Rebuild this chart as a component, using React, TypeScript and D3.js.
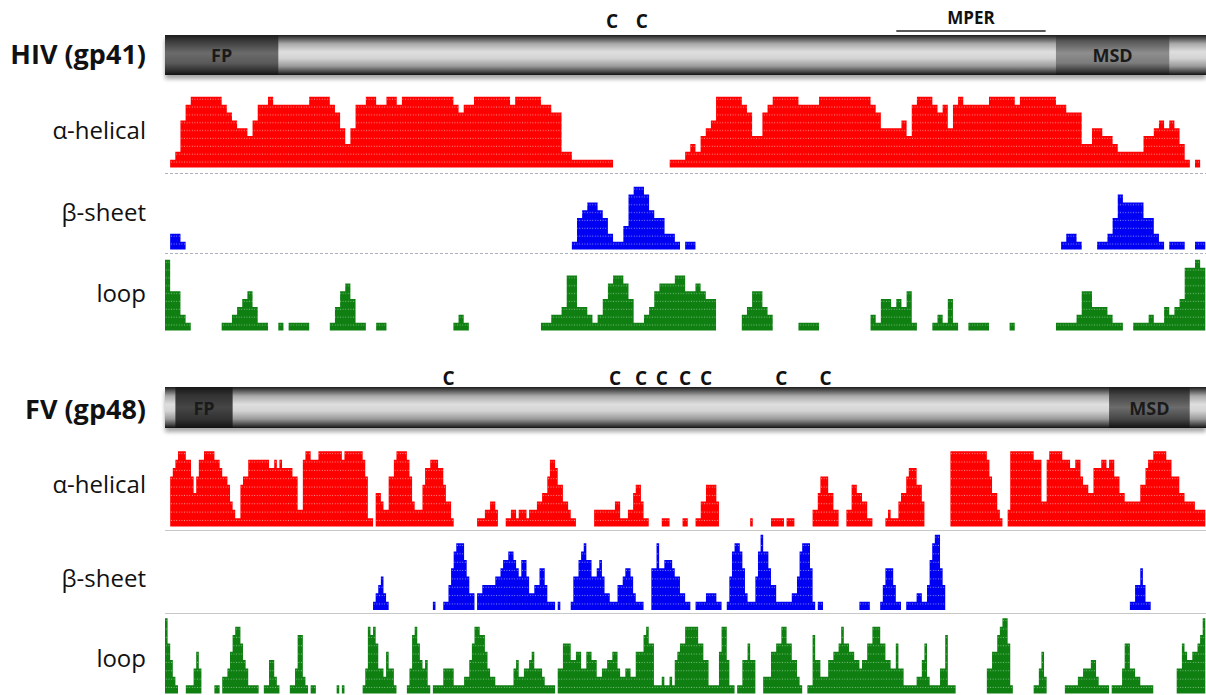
import * as d3 from 'd3'
import { useEffect, useRef } from 'react'

// [first column, level] – each level holds until the next entry
type Run = [number, number]

const hivHelix: Run[] = [
  [0, 0], [1, 1], [2, 2], [3, 6], [4, 8], [5, 9], [11, 8], [12, 7], [13, 6], [14, 5], [16, 4], [17, 6], [18, 8], [20, 9], [21, 8],
  [28, 9], [32, 8], [33, 7], [34, 5], [35, 3], [36, 5], [37, 8], [39, 9], [41, 8], [43, 9], [45, 8], [46, 9], [56, 8], [57, 7],
  [58, 8], [60, 9], [67, 8], [68, 9], [73, 8], [75, 7], [77, 2], [79, 1], [87, 0],
  [98, 1], [101, 2], [102, 3], [103, 2], [104, 4], [105, 5], [106, 6], [107, 9], [112, 8], [113, 7], [114, 4], [116, 7], [117, 8],
  [118, 9], [123, 8], [127, 9], [137, 8], [138, 7], [139, 5], [143, 6], [144, 4], [145, 8], [146, 9], [149, 8], [150, 7], [151, 8],
  [152, 5], [153, 8], [154, 9], [155, 8], [160, 9], [165, 8], [166, 9], [173, 8], [175, 7], [178, 3], [180, 5], [182, 4], [184, 3],
  [185, 2], [190, 4], [192, 5], [193, 6], [194, 5], [195, 6], [196, 5], [197, 3], [198, 1], [199, 0], [200, 1], [201, 0],
]
const hivSheet: Run[] = [
  [0, 0], [1, 2], [3, 1], [4, 0], [79, 1], [80, 4], [81, 5], [82, 6], [84, 5], [85, 4], [86, 2], [87, 1], [89, 3], [90, 7], [91, 8],
  [93, 7], [94, 5], [95, 4], [97, 2], [99, 1], [100, 0], [101, 1], [103, 0], [174, 1], [175, 2], [177, 1], [178, 0], [181, 1],
  [183, 2], [184, 4], [185, 7], [186, 6], [190, 4], [192, 2], [193, 1], [194, 0], [195, 1], [198, 0], [200, 1],
]
const hivLoop: Run[] = [
  [0, 9], [1, 5], [3, 2], [4, 1], [5, 0], [11, 1], [13, 2], [14, 3], [15, 4], [16, 5], [17, 3], [18, 1], [20, 0], [22, 1], [23, 0],
  [24, 1], [28, 0], [32, 1], [33, 3], [34, 5], [35, 6], [36, 4], [37, 1], [39, 0], [41, 1], [43, 0], [56, 1], [57, 2], [58, 1],
  [59, 0], [73, 1], [75, 2], [77, 3], [78, 7], [80, 3], [82, 2], [83, 1], [84, 2], [85, 4], [86, 6], [87, 7], [89, 6], [90, 4],
  [91, 1], [93, 2], [94, 3], [95, 5], [96, 6], [99, 7], [101, 5], [103, 6], [104, 5], [105, 4], [107, 0], [112, 2], [113, 3],
  [114, 5], [116, 3], [117, 2], [118, 0], [123, 1], [127, 0], [137, 2], [138, 1], [139, 4], [141, 3], [142, 4], [143, 3], [144, 5],
  [145, 1], [146, 0], [149, 1], [150, 2], [151, 1], [152, 4], [153, 1], [154, 0], [156, 1], [160, 0], [164, 1], [165, 0], [173, 1],
  [177, 2], [178, 5], [180, 3], [183, 2], [184, 1], [186, 0], [188, 1], [191, 2], [192, 1], [194, 3], [195, 2], [196, 3], [197, 4],
  [198, 8], [200, 9], [201, 8],
]

const fvHelix: Run[] = [
  [0, 0], [2, 6], [3, 7], [4, 8], [5, 9], [8, 8], [10, 6], [11, 4], [12, 6], [13, 8], [15, 9], [19, 8], [21, 7], [22, 6], [24, 5],
  [25, 3], [26, 2], [27, 1], [29, 5], [30, 6], [32, 8], [40, 7], [42, 8], [43, 7], [44, 8], [45, 7], [49, 6], [51, 2], [53, 8],
  [54, 9], [56, 8], [59, 9], [68, 8], [69, 9], [76, 8], [77, 6], [78, 1], [80, 0],
  [81, 4], [83, 3], [84, 2], [86, 6], [88, 8], [89, 9], [93, 8], [94, 6], [95, 3], [96, 2], [99, 5], [100, 7], [102, 8], [105, 7],
  [107, 5], [108, 3], [110, 1], [111, 0],
  [120, 1], [123, 2], [125, 3], [127, 2], [128, 0], [131, 1], [133, 2], [135, 1], [136, 2], [139, 1], [140, 2], [143, 3], [145, 4],
  [147, 6], [148, 8], [150, 7], [151, 5], [153, 3], [155, 2], [156, 1], [158, 0],
  [165, 2], [173, 3], [175, 1], [178, 2], [180, 4], [181, 5], [183, 3], [184, 1], [186, 0], [191, 1], [194, 0], [199, 1], [201, 0],
  [204, 1], [206, 3], [208, 5], [212, 3], [213, 0], [225, 1], [226, 0], [233, 1], [238, 0], [239, 1], [242, 0],
  [249, 2], [251, 4], [252, 6], [255, 4], [257, 2], [259, 0], [262, 2], [264, 5], [266, 4], [268, 3], [270, 1], [272, 0], [277, 1],
  [278, 2], [279, 1], [282, 3], [283, 4], [285, 6], [286, 7], [289, 5], [291, 3], [292, 0],
  [302, 9], [316, 8], [317, 6], [318, 4], [320, 2], [321, 1], [322, 0], [324, 2], [325, 9], [334, 8], [337, 3], [339, 8], [340, 9],
  [345, 8], [348, 7], [350, 8], [352, 6], [353, 5], [355, 4], [357, 7], [360, 8], [362, 7], [363, 8], [365, 6], [367, 4], [369, 3],
  [375, 5], [377, 7], [378, 8], [380, 9], [385, 8], [387, 6], [390, 4], [392, 3], [396, 2],
]
const fvSheet: Run[] = [
  [0, 0], [80, 1], [81, 2], [82, 3], [83, 4], [84, 2], [85, 1], [86, 0], [103, 1], [104, 0], [107, 1], [109, 3], [110, 5], [111, 7],
  [112, 8], [115, 6], [116, 4], [117, 2], [119, 0], [120, 2], [122, 3], [127, 4], [129, 5], [130, 6], [132, 7], [134, 6], [135, 5],
  [136, 4], [137, 6], [139, 4], [140, 2], [142, 3], [144, 5], [146, 3], [147, 1], [150, 0], [151, 1], [152, 0], [156, 1], [157, 4],
  [159, 6], [160, 7], [161, 8], [162, 6], [164, 4], [166, 5], [167, 6], [168, 4], [169, 2], [171, 1], [174, 3], [176, 4], [177, 5],
  [179, 4], [180, 2], [181, 1], [184, 0], [187, 5], [189, 8], [190, 5], [192, 6], [195, 5], [196, 4], [198, 2], [200, 1], [202, 0],
  [204, 1], [208, 2], [212, 1], [214, 0], [216, 1], [217, 4], [218, 7], [219, 8], [221, 7], [222, 5], [223, 2], [224, 1], [227, 4],
  [228, 7], [229, 9], [230, 7], [232, 5], [233, 3], [235, 1], [241, 2], [243, 4], [244, 7], [245, 8], [248, 5], [249, 1], [250, 0],
  [251, 1], [253, 0], [267, 1], [271, 0], [275, 1], [276, 3], [277, 5], [280, 3], [281, 1], [283, 0], [285, 1], [289, 2], [291, 1],
  [293, 3], [294, 6], [295, 8], [296, 9], [298, 5], [299, 3], [300, 0], [371, 1], [373, 3], [375, 5], [376, 3], [377, 1], [379, 0],
]
const fvLoop: Run[] = [
  [0, 9], [1, 6], [2, 4], [3, 2], [4, 1], [5, 0], [8, 1], [11, 3], [12, 5], [13, 3], [14, 0], [19, 1], [21, 0], [22, 2], [24, 3],
  [25, 5], [26, 7], [27, 8], [29, 6], [30, 4], [31, 3], [32, 1], [36, 0], [38, 1], [40, 4], [42, 2], [43, 1], [44, 0], [48, 1],
  [50, 3], [51, 7], [53, 2], [54, 1], [55, 0], [56, 1], [58, 0], [66, 1], [67, 0], [68, 1], [69, 0], [76, 1], [77, 3], [78, 8],
  [79, 7], [80, 8], [81, 6], [82, 3], [84, 2], [85, 5], [86, 3], [88, 1], [89, 0], [93, 1], [94, 3], [95, 7], [96, 8], [97, 6],
  [98, 4], [99, 3], [100, 4], [101, 1], [102, 0], [103, 1], [107, 3], [111, 1], [115, 2], [117, 4], [118, 6], [119, 8], [121, 7],
  [123, 5], [124, 3], [125, 2], [127, 1], [134, 3], [135, 4], [136, 2], [138, 3], [140, 4], [141, 5], [142, 3], [145, 2], [146, 1],
  [150, 0], [151, 3], [153, 6], [156, 4], [158, 5], [160, 3], [162, 5], [164, 4], [166, 2], [168, 3], [170, 4], [172, 5], [174, 3],
  [175, 2], [177, 3], [179, 2], [181, 5], [184, 7], [185, 8], [186, 6], [188, 1], [191, 2], [192, 1], [194, 2], [195, 1], [196, 4],
  [197, 5], [198, 6], [200, 8], [205, 6], [207, 4], [209, 1], [213, 5], [214, 8], [216, 4], [217, 1], [219, 0], [220, 1], [222, 4],
  [224, 6], [225, 4], [227, 0], [230, 2], [233, 5], [235, 6], [237, 8], [239, 6], [241, 4], [243, 2], [244, 1], [245, 0], [247, 1],
  [249, 7], [250, 4], [252, 2], [255, 4], [257, 5], [259, 6], [260, 8], [261, 6], [263, 5], [265, 4], [267, 3], [268, 4], [270, 6],
  [272, 8], [275, 6], [277, 4], [279, 3], [281, 6], [282, 3], [284, 1], [289, 2], [291, 4], [292, 6], [293, 2], [294, 1], [298, 3],
  [300, 7], [301, 1], [304, 0], [316, 3], [318, 5], [320, 7], [321, 8], [322, 9], [324, 6], [325, 1], [326, 0], [334, 1], [336, 3],
  [337, 5], [338, 2], [339, 0], [346, 1], [351, 2], [353, 3], [356, 4], [358, 2], [359, 1], [363, 0], [364, 1], [368, 3], [369, 6],
  [371, 3], [373, 2], [375, 1], [380, 0], [389, 3], [391, 6], [392, 5], [393, 4], [395, 5], [397, 6], [398, 7], [399, 9],
]

const trackNames = ['α-helical', 'β-sheet', 'loop']
const hivCys = [86.8, 92.6]
const fvCys = [109, 173, 183, 191, 200, 208, 237, 254]
const hivDomains = [{ name: 'FP', from: 0, to: 22 }, { name: 'MSD', from: 173, to: 195 }]
const fvDomains = [{ name: 'FP', from: 4, to: 26 }, { name: 'MSD', from: 363, to: 394 }]
const hivMper = { name: 'MPER', from: 142, to: 171 }

const W = 1206
const H = 695
const FONT = "'Open Sans', 'DejaVu Sans', sans-serif"
const trackColors = ['#ff0000', '#0000f2', '#0f7f12']
const dotColors = ['#ff9191', '#8a8aff', '#76c076']

const tubeStops: [number, string][] = [[0, '#1c1c1c'], [0.07, '#4a4a4a'], [0.22, '#a9a9a9'], [0.42, '#dedede'], [0.58, '#d4d4d4'], [0.78, '#9a9a9a'], [0.92, '#474747'], [1, '#121212']]
const domainStops: Record<string, [number, string][]> = {
  'hiv-FP': [[0, '#1c1c1c'], [0.15, '#3a3a3a'], [0.45, '#6b6b6b'], [0.7, '#5a5a5a'], [0.9, '#2e2e2e'], [1, '#111']],
  'hiv-MSD': [[0, '#1e1e1e'], [0.15, '#565656'], [0.45, '#8e8e8e'], [0.7, '#7c7c7c'], [0.9, '#3a3a3a'], [1, '#111']],
  'fv-FP': [[0, '#161616'], [0.2, '#323232'], [0.5, '#464646'], [0.8, '#303030'], [1, '#101010']],
  'fv-MSD': [[0, '#1a1a1a'], [0.2, '#454545'], [0.5, '#6c6c6c'], [0.8, '#424242'], [1, '#101010']],
}

const panels = [
  {
    key: 'hiv', title: 'HIV (gp41)', cols: 202, tracks: [hivHelix, hivSheet, hivLoop], cys: hivCys, domains: hivDomains, mper: hivMper,
    barY: 35, barH: 40, cysY: 28, titleY: 64, bases: [167.5, 249.5, 330.5], levelH: 7.85, seps: [173.5, 253.5], dashed: true,
    labelYs: [139, 221, 302],
  },
  {
    key: 'fv', title: 'FV (gp48)', cols: 400, tracks: [fvHelix, fvSheet, fvLoop], cys: fvCys, domains: fvDomains, mper: null,
    barY: 387, barH: 41, cysY: 385, titleY: 419, bases: [526.5, 610, 693.5], levelH: 8.35, seps: [530.5, 613.5], dashed: false,
    labelYs: [493, 587, 667],
  },
]

export default function App() {
  const svgRef = useRef<SVGSVGElement | null>(null)

  useEffect(() => {
    if (!svgRef.current) return
    const svg = d3.select(svgRef.current)
    svg.selectAll('*').remove()
    const defs = svg.append('defs')

    const grad = (id: string, stops: [number, string][]) => {
      const lg = defs.append('linearGradient').attr('id', id).attr('x1', 0).attr('y1', 0).attr('x2', 0).attr('y2', 1)
      stops.forEach(([o, c]) => lg.append('stop').attr('offset', o).attr('stop-color', c))
    }
    grad('tube', tubeStops)
    Object.entries(domainStops).forEach(([k, s]) => grad(`dom-${k}`, s))

    const blur = defs.append('filter').attr('id', 'shadow').attr('x', -0.05).attr('y', -0.5).attr('width', 1.1).attr('height', 2)
    blur.append('feGaussianBlur').attr('stdDeviation', 2)

    panels.forEach((p, pi) => {
      const x = d3.scaleLinear().domain([0, p.cols]).range([165, 1205.3])
      const g = svg.append('g')

      // title
      g.append('text').attr('x', 146).attr('y', p.titleY).attr('text-anchor', 'end')
        .attr('font-family', FONT).attr('font-weight', 700).attr('font-size', 27).attr('fill', '#111').text(p.title)

      // tube
      g.append('rect').attr('x', 165).attr('y', p.barY + 4).attr('width', W - 165).attr('height', p.barH)
        .attr('fill', '#000').attr('opacity', 0.35).attr('filter', 'url(#shadow)')
      g.append('rect').attr('x', 165).attr('y', p.barY).attr('width', W - 165).attr('height', p.barH).attr('fill', 'url(#tube)')
      p.domains.forEach((d) => {
        g.append('rect').attr('x', x(d.from)).attr('y', p.barY).attr('width', x(d.to) - x(d.from)).attr('height', p.barH)
          .attr('fill', `url(#dom-${p.key}-${d.name})`)
        g.append('text').attr('x', (x(d.from) + x(d.to)) / 2).attr('y', p.barY + p.barH / 2 + 7).attr('text-anchor', 'middle')
          .attr('font-family', FONT).attr('font-weight', 700).attr('font-size', 18).attr('fill', '#1a1a1a').text(d.name)
      })

      // cysteines
      g.selectAll('text.cys').data(p.cys).join('text').attr('class', 'cys')
        .attr('x', (d) => x(d)).attr('y', p.cysY).attr('text-anchor', 'middle')
        .attr('font-family', FONT).attr('font-weight', 700).attr('font-size', 19).attr('fill', '#111').text('C')

      if (p.mper) {
        g.append('line').attr('x1', x(p.mper.from)).attr('x2', x(p.mper.to)).attr('y1', p.barY - 4).attr('y2', p.barY - 4)
          .attr('stroke', '#222').attr('stroke-width', 1.5)
        g.append('text').attr('x', (x(p.mper.from) + x(p.mper.to)) / 2).attr('y', p.barY - 11).attr('text-anchor', 'middle')
          .attr('font-family', FONT).attr('font-weight', 700).attr('font-size', 17).attr('fill', '#111').text(p.mper.name)
      }

      // separators
      p.seps.forEach((sy) => {
        g.append('line').attr('x1', 165).attr('x2', W).attr('y1', sy).attr('y2', sy)
          .attr('stroke', p.dashed ? '#aeb0bc' : '#c8c8c8').attr('stroke-width', 1.2)
          .attr('stroke-dasharray', p.dashed ? '3,2' : null)
      })

      // tracks
      p.tracks.forEach((runs, ti) => {
        const base = p.bases[ti]
        const y = d3.scaleLinear().domain([0, 9]).range([base, base - 9 * p.levelH])
        const pid = `dots-${pi}-${ti}`
        const pat = defs.append('pattern').attr('id', pid).attr('patternUnits', 'userSpaceOnUse')
          .attr('width', 2.6).attr('height', p.levelH).attr('patternTransform', `translate(165,${base})`)
        pat.append('rect').attr('width', 2.6).attr('height', p.levelH).attr('fill', trackColors[ti])
        pat.append('rect').attr('x', 0.8).attr('y', 1.8).attr('width', 1).attr('height', 1).attr('fill', dotColors[ti])

        const pts: Run[] = [...runs, [p.cols, runs[runs.length - 1][1]]]
        const area = d3.area<Run>().x((d) => x(d[0])).y0(base).y1((d) => y(d[1])).curve(d3.curveStepAfter)
        g.append('path').attr('d', area(pts) || '').attr('fill', `url(#${pid})`)

        g.append('text').attr('x', 146).attr('y', p.labelYs[ti]).attr('text-anchor', 'end')
          .attr('font-family', FONT).attr('font-size', 24).attr('fill', '#111').text(trackNames[ti])
      })
    })
  }, [])

  return (
    <svg ref={svgRef} width={W} height={H} style={{ position: 'absolute', left: 0, top: 0, background: '#fff' }} />
  )
}
